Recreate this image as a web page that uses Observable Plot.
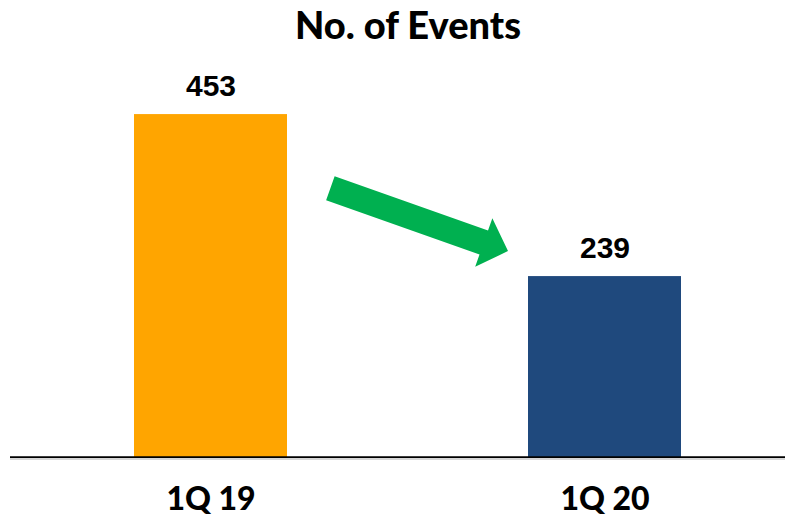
<!DOCTYPE html>
<html>
<head>
<meta charset="utf-8">
<script src="https://cdn.jsdelivr.net/npm/d3@7"></script>
<script src="https://cdn.jsdelivr.net/npm/@observablehq/plot@0.6"></script>
<style>
  html, body { margin: 0; padding: 0; background: #fff; }
  #wrap { position: relative; width: 785px; height: 516px; overflow: hidden; }
  #title { position: absolute; top: 5px; left: 408px; transform: translateX(-50%);
           font-family: Lato, "DejaVu Sans", sans-serif; font-weight: 900; font-size: 38px;
           line-height: 1; color: #000; white-space: nowrap; }
  #chart { position: absolute; top: 0; left: 0; }
</style>
</head>
<body>
<div id="wrap">
  <div id="title"></div>
  <div id="chart"></div>
</div>
<script>
const titleText = "No. of Events";
const categories = ["1Q 19", "1Q 20"];
const values = [453, 239];
const barColors = ["#FFA500", "#1F497D"];
const arrowColor = "#00B050";
// arrow drawn between the bars, from this value level down to this one
const arrowFromValue = 355;
const arrowToValue = 272;

document.getElementById("title").textContent = titleText;

const data = categories.map((c, i) => ({cat: c, value: values[i], color: barColors[i]}));

function arrowMark(index, scales, channels, dimensions, context) {
  const x = scales.x, y = scales.y;
  const bw = x.bandwidth ? x.bandwidth() : 153;
  const xa = x(categories[0]) + bw, xb = x(categories[1]);
  const gap = xb - xa;
  const tail = [xa + 0.18 * gap, y(arrowFromValue)];
  const tip = [xa + 0.917 * gap, y(arrowToValue)];
  const dx = tip[0] - tail[0], dy = tip[1] - tail[1];
  const L = Math.hypot(dx, dy);
  const u = [dx / L, dy / L], n = [-u[1], u[0]];
  const sw = 12.75, hw = 25.75, hl = 25.7;
  const base = [tip[0] - u[0] * hl, tip[1] - u[1] * hl];
  const p = (pt, k) => [pt[0] + n[0] * k, pt[1] + n[1] * k];
  const pts = [p(tail, -sw), p(base, -sw), p(base, -hw), tip, p(base, hw), p(base, sw), p(tail, sw)];
  const g = d3.create("svg:polygon")
    .attr("points", pts.map(q => q.join(",")).join(" "))
    .attr("fill", arrowColor);
  return g.node();
}

const chart = Plot.plot({
  width: 785,
  height: 516,
  marginTop: 0,
  marginLeft: 10,
  marginRight: 0,
  marginBottom: 59,
  x: {domain: categories, range: [134, 681], paddingInner: 0.612, paddingOuter: 0, label: null},
  y: {domain: [0, 600], range: [457, 457 - 600 * 0.757], axis: null},
  color: {type: "identity"},
  marks: [
    Plot.barY(data, {x: "cat", y: "value", fill: "color"}),
    Plot.ruleY([0], {stroke: "#b0b0b0", strokeWidth: 1.2, dy: 1.5}),
    Plot.ruleY([0], {stroke: "#000", strokeWidth: 1.8, dy: -0.3}),
    Plot.text(data, {x: "cat", y: "value", text: d => String(d.value), dy: -19, lineAnchor: "bottom",
      fontSize: 30, fontWeight: "bold", fontFamily: "Liberation Sans, Arial, sans-serif", fill: "#000"}),
    Plot.axisX({tickSize: 0, tickPadding: 30, fontSize: 32, fontWeight: 900, fontFamily: "Lato, sans-serif", fill: "#000"}),
    arrowMark
  ]
});
document.getElementById("chart").appendChild(chart);
</script>
</body>
</html>
